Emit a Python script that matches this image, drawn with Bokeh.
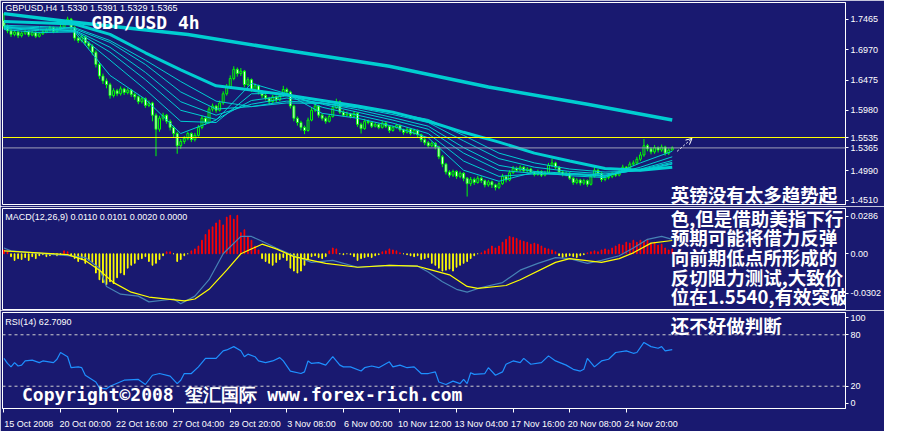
from bokeh.plotting import figure
from bokeh.layouts import column
from bokeh.models import (ColumnDataSource, Range1d, FixedTicker, NumeralTickFormatter,
                          LinearAxis, Span, Label, Arrow, OpenHead)
from bokeh.embed import file_html
from bokeh.resources import INLINE

# ---------------- texts ----------------
SYMBOL_HEADER = "GBPUSD,H4  1.5330 1.5391 1.5329 1.5365"
TITLE = "GBP/USD 4h"
MACD_HEADER = "MACD(12,26,9) 0.0110 0.0101 0.0020 0.0000"
RSI_HEADER = "RSI(14) 62.7090"
COPYRIGHT = "Copyright©2008 玺汇国际 www.forex-rich.com"
NOTE_LINES = ["英镑没有太多趋势起", "色,但是借助美指下行", "预期可能将借力反弹",
              "向前期低点所形成的", "反切阻力测试,大致价", "位在1.5540,有效突破",
              "还不好做判断"]
DATE_LABELS = ["15 Oct 2008", "20 Oct 00:00", "22 Oct 16:00", "27 Oct 04:00",
               "29 Oct 20:00", "3 Nov 08:00", "6 Nov 00:00", "10 Nov 12:00",
               "13 Nov 04:00", "17 Nov 16:00", "20 Nov 08:00", "24 Nov 20:00"]
DATE_BARS = [0, 16, 32, 48, 64, 80, 96, 112, 128, 144, 160, 176]
PRICE_TICKS = [1.4510, 1.4990, 1.5980, 1.6475, 1.6970, 1.7465]
MACD_TICKS = [-0.0302, 0.0, 0.0286]
RSI_TICKS = [0, 20, 80, 100]
RSI_LEVELS = [20, 80]
ASK_LEVEL = 1.5535
BID_LEVEL = 1.5365
# hand-drawn arrow object on the chart (bar, price)
ARROW_BARS = [190.4, 194.6]
ARROW_PRICES = [1.5310, 1.5520]

# ---------------- candles (H4 bars) ----------------
OPEN = [1.745,1.735,1.728,1.722,1.726,1.720,1.724,1.727,1.721,1.725,
        1.719,1.723,1.726,1.729,1.733,1.727,1.731,1.734,1.742,1.747,
        1.733,1.716,1.712,1.718,1.708,1.703,1.693,1.673,1.654,1.646,
        1.640,1.622,1.630,1.625,1.633,1.627,1.631,1.624,1.620,1.612,
        1.617,1.606,1.610,1.590,1.567,1.585,1.590,1.580,1.570,1.560,
        1.540,1.547,1.552,1.560,1.550,1.557,1.570,1.585,1.578,1.600,
        1.605,1.598,1.610,1.625,1.636,1.650,1.665,1.658,1.662,1.640,
        1.648,1.632,1.638,1.628,1.622,1.618,1.612,1.620,1.615,1.622,
        1.632,1.628,1.605,1.585,1.578,1.570,1.565,1.582,1.598,1.605,
        1.590,1.585,1.580,1.588,1.602,1.612,1.595,1.590,1.592,1.588,
        1.593,1.575,1.568,1.580,1.578,1.572,1.575,1.570,1.577,1.572,
        1.565,1.570,1.573,1.566,1.562,1.567,1.560,1.565,1.558,1.550,
        1.545,1.540,1.544,1.538,1.522,1.510,1.497,1.492,1.498,1.490,
        1.495,1.487,1.478,1.485,1.480,1.487,1.483,1.476,1.481,1.476,
        1.472,1.478,1.490,1.484,1.496,1.503,1.500,1.505,1.499,1.502,
        1.497,1.493,1.498,1.492,1.496,1.508,1.512,1.505,1.497,1.493,
        1.495,1.487,1.480,1.484,1.479,1.483,1.477,1.490,1.500,1.495,
        1.485,1.488,1.490,1.494,1.492,1.498,1.505,1.502,1.510,1.512,
        1.518,1.525,1.540,1.535,1.530,1.537,1.533,1.538,1.528,1.5330]
HIGH = [1.757,1.738,1.731,1.729,1.728,1.727,1.730,1.729,1.728,1.727,
        1.726,1.729,1.732,1.736,1.735,1.734,1.738,1.746,1.751,1.749,
        1.736,1.720,1.722,1.720,1.711,1.706,1.696,1.676,1.658,1.650,
        1.643,1.634,1.633,1.637,1.635,1.634,1.633,1.627,1.622,1.620,
        1.619,1.614,1.612,1.593,1.589,1.594,1.592,1.583,1.573,1.563,
        1.551,1.556,1.563,1.562,1.561,1.574,1.589,1.588,1.604,1.609,
        1.607,1.614,1.629,1.641,1.655,1.670,1.668,1.667,1.664,1.652,
        1.650,1.642,1.640,1.631,1.625,1.620,1.623,1.622,1.626,1.638,
        1.635,1.630,1.607,1.588,1.581,1.573,1.586,1.602,1.609,1.607,
        1.593,1.588,1.592,1.606,1.617,1.614,1.598,1.596,1.594,1.597,
        1.595,1.578,1.584,1.583,1.580,1.578,1.577,1.580,1.579,1.574,
        1.573,1.576,1.575,1.568,1.570,1.569,1.568,1.567,1.560,1.553,
        1.548,1.547,1.546,1.540,1.525,1.512,1.500,1.501,1.500,1.498,
        1.497,1.489,1.489,1.488,1.491,1.490,1.485,1.484,1.483,1.478,
        1.481,1.494,1.492,1.500,1.507,1.506,1.508,1.507,1.505,1.504,
        1.499,1.501,1.500,1.499,1.512,1.519,1.514,1.507,1.499,1.498,
        1.497,1.489,1.487,1.486,1.486,1.485,1.494,1.505,1.502,1.497,
        1.491,1.493,1.497,1.496,1.501,1.509,1.507,1.514,1.516,1.522,
        1.530,1.551,1.543,1.538,1.541,1.539,1.542,1.540,1.536,1.5391]
LOW = [1.731,1.724,1.718,1.719,1.716,1.717,1.721,1.718,1.719,1.716,
       1.717,1.721,1.724,1.727,1.724,1.725,1.729,1.732,1.739,1.729,
       1.712,1.708,1.709,1.704,1.698,1.688,1.668,1.649,1.641,1.634,
       1.617,1.619,1.621,1.622,1.623,1.624,1.620,1.615,1.608,1.609,
       1.602,1.603,1.580,1.523,1.563,1.581,1.576,1.565,1.554,1.527,
       1.535,1.543,1.549,1.546,1.547,1.555,1.567,1.574,1.576,1.596,
       1.594,1.596,1.607,1.622,1.633,1.647,1.653,1.654,1.636,1.637,
       1.628,1.629,1.624,1.618,1.614,1.607,1.610,1.611,1.613,1.620,
       1.624,1.601,1.580,1.573,1.565,1.559,1.563,1.580,1.595,1.586,
       1.581,1.576,1.578,1.586,1.600,1.592,1.587,1.588,1.585,1.586,
       1.571,1.560,1.566,1.575,1.569,1.570,1.567,1.568,1.569,1.561,
       1.563,1.568,1.563,1.558,1.560,1.557,1.558,1.554,1.546,1.541,
       1.537,1.538,1.534,1.518,1.505,1.493,1.488,1.489,1.486,1.487,
       1.482,1.457,1.474,1.476,1.478,1.479,1.472,1.473,1.471,1.467,
       1.469,1.476,1.480,1.482,1.494,1.497,1.498,1.496,1.497,1.494,
       1.490,1.491,1.489,1.490,1.494,1.505,1.502,1.494,1.490,1.490,
       1.484,1.476,1.477,1.475,1.476,1.473,1.475,1.488,1.491,1.481,
       1.482,1.485,1.487,1.489,1.490,1.496,1.499,1.500,1.507,1.509,
       1.515,1.522,1.531,1.526,1.527,1.529,1.530,1.524,1.525,1.5329]
CLOSE = [1.735,1.728,1.722,1.726,1.720,1.724,1.727,1.721,1.725,1.719,
         1.723,1.726,1.729,1.733,1.727,1.731,1.734,1.742,1.747,1.733,
         1.716,1.712,1.718,1.708,1.703,1.693,1.673,1.654,1.646,1.640,
         1.622,1.630,1.625,1.633,1.627,1.631,1.624,1.620,1.612,1.617,
         1.606,1.610,1.590,1.567,1.585,1.590,1.580,1.570,1.560,1.540,
         1.547,1.552,1.560,1.550,1.557,1.570,1.585,1.578,1.600,1.605,
         1.598,1.610,1.625,1.636,1.650,1.665,1.658,1.662,1.640,1.648,
         1.632,1.638,1.628,1.622,1.618,1.612,1.620,1.615,1.622,1.632,
         1.628,1.605,1.585,1.578,1.570,1.565,1.582,1.598,1.605,1.590,
         1.585,1.580,1.588,1.602,1.612,1.595,1.590,1.592,1.588,1.593,
         1.575,1.568,1.580,1.578,1.572,1.575,1.570,1.577,1.572,1.565,
         1.570,1.573,1.566,1.562,1.567,1.560,1.565,1.558,1.550,1.545,
         1.540,1.544,1.538,1.522,1.510,1.497,1.492,1.498,1.490,1.495,
         1.487,1.478,1.485,1.480,1.487,1.483,1.476,1.481,1.476,1.472,
         1.478,1.490,1.484,1.496,1.503,1.500,1.505,1.499,1.502,1.497,
         1.493,1.498,1.492,1.496,1.508,1.512,1.505,1.497,1.493,1.495,
         1.487,1.480,1.484,1.479,1.483,1.477,1.490,1.500,1.495,1.485,
         1.488,1.490,1.494,1.492,1.498,1.505,1.502,1.510,1.512,1.518,
         1.525,1.540,1.535,1.530,1.537,1.533,1.538,1.528,1.533,1.5365]

# ---------------- moving averages (read at sample bars) ----------------
MA_BARS = [0, 10, 20, 30, 40, 50, 60, 70, 80, 90, 100, 110, 120, 130, 140, 150, 160, 170, 180, 189]
MA_1 = [1.730,1.725,1.726,1.655,1.616,1.560,1.582,1.642,1.625,1.593,1.585,1.572,1.553,1.500,1.482,1.497,1.491,1.488,1.512,1.531]
MA_2 = [1.732,1.728,1.727,1.680,1.632,1.580,1.578,1.625,1.626,1.603,1.590,1.577,1.560,1.515,1.490,1.494,1.493,1.490,1.505,1.522]
MA_3 = [1.733,1.730,1.728,1.693,1.648,1.598,1.583,1.614,1.622,1.608,1.595,1.582,1.567,1.528,1.500,1.495,1.494,1.491,1.502,1.516]
MA_4 = [1.734,1.731,1.729,1.701,1.660,1.612,1.590,1.608,1.618,1.610,1.599,1.586,1.572,1.537,1.508,1.498,1.495,1.492,1.501,1.513]
MA_5 = [1.735,1.733,1.731,1.709,1.673,1.628,1.600,1.604,1.613,1.610,1.602,1.591,1.578,1.548,1.519,1.505,1.498,1.494,1.500,1.511]
MA_6 = [1.737,1.735,1.733,1.712,1.680,1.645,1.613,1.604,1.610,1.609,1.603,1.594,1.583,1.557,1.528,1.512,1.502,1.497,1.499,1.510]
MA_SLOW_BARS = [0, 20, 30, 40, 50, 60, 70, 80, 90, 100, 110, 120, 130, 140, 150, 160, 170, 180, 189]
MA_SLOW = [1.743,1.739,1.722,1.692,1.664,1.638,1.631,1.623,1.614,1.605,1.595,1.580,1.562,1.546,1.528,1.515,1.503,1.500,1.505]
MA_LONG_BARS = [0, 18, 52, 82, 109, 137, 165, 189]
MA_LONG = [1.756,1.743,1.722,1.694,1.670,1.636,1.608,1.582]

# ---------------- MACD ----------------
HIST = [0.0029,0.0015,-0.0022,-0.0051,-0.0037,-0.0044,-0.0029,-0.0051,-0.0022,-0.0037,
        -0.0015,-0.0007,-0.0022,-0.0015,-0.0007,-0.0015,-0.0007,0.0022,0.0015,-0.0015,
        -0.0037,-0.0059,-0.0044,-0.0073,-0.0051,-0.0066,-0.0147,-0.0198,-0.0220,-0.0235,
        -0.0213,-0.0227,-0.0183,-0.0147,-0.0161,-0.0110,-0.0088,-0.0073,-0.0044,-0.0037,
        -0.0022,-0.0059,-0.0088,-0.0073,-0.0044,-0.0015,0.0015,0.0015,0.0,-0.0059,
        -0.0044,-0.0015,0.0,0.0022,0.0037,0.0059,0.0103,0.0147,0.0183,0.0205,
        0.0235,0.0257,0.0220,0.0279,0.0293,0.0264,0.0293,0.0161,0.0183,0.0132,
        0.0103,0.0059,0.0029,-0.0037,-0.0059,-0.0073,-0.0088,-0.0066,-0.0044,-0.0029,
        -0.0051,-0.0110,-0.0132,-0.0147,-0.0132,-0.0088,-0.0044,-0.0022,-0.0015,-0.0029,
        -0.0037,-0.0022,0.0022,0.0044,0.0037,0.0,-0.0007,0.0,-0.0007,-0.0022,
        -0.0051,-0.0037,-0.0029,-0.0022,-0.0029,-0.0015,-0.0007,0.0015,0.0022,0.0037,
        0.0029,0.0022,0.0007,0.0,-0.0007,-0.0015,-0.0022,-0.0015,-0.0044,-0.0037,
        -0.0029,-0.0073,-0.0088,-0.0110,-0.0132,-0.0125,-0.0117,-0.0132,-0.0103,-0.0088,
        -0.0073,-0.0059,-0.0037,-0.0015,0.0,0.0007,0.0022,0.0037,0.0059,0.0044,
        0.0059,0.0088,0.0110,0.0132,0.0125,0.0117,0.0103,0.0095,0.0088,0.0073,
        0.0081,0.0073,0.0059,0.0044,0.0037,0.0029,0.0015,-0.0015,-0.0029,-0.0022,
        -0.0015,-0.0022,-0.0029,-0.0015,-0.0007,0.0007,0.0015,0.0022,0.0015,0.0029,
        0.0037,0.0029,0.0044,0.0059,0.0073,0.0066,0.0088,0.0081,0.0103,0.0088,
        0.0103,0.0095,0.0110,0.0081,0.0088,0.0066,0.0073,0.0044,0.0029,0.0037]
MACD_BARS = [0,2,18,23,27,29,33,38,41,48,50,54,58,62,67,70,73,77,82,87,
             93,100,109,117,120,124,128,131,135,141,146,151,156,160,165,169,174,178,182,186,189]
MACD_MAIN = [0.0044,0.0022,-0.0015,-0.0029,-0.0110,-0.0249,-0.0308,-0.0323,-0.0367,-0.0345,
             -0.0381,-0.0323,-0.0198,0.0,0.0132,0.0132,0.0095,0.0044,-0.0015,-0.0066,
             -0.0051,-0.0103,-0.0088,-0.0095,-0.0139,-0.0213,-0.0271,-0.0293,-0.0257,-0.0220,
             -0.0125,-0.0073,-0.0029,-0.0037,-0.0073,-0.0051,-0.0015,0.0044,0.0110,0.0132,0.0110]
SIGNAL_BARS = [0,18,23,27,31,36,41,51,54,58,63,67,73,77,82,91,100,109,117,120,
               126,131,134,142,146,156,160,169,174,178,183,189]
MACD_SIGNAL = [0.0022,-0.0007,-0.0051,-0.0125,-0.0220,-0.0293,-0.0330,-0.0359,-0.0345,-0.0271,
               -0.0125,0.0,0.0073,0.0037,-0.0022,-0.0073,-0.0103,-0.0088,-0.0095,-0.0117,
               -0.0161,-0.0249,-0.0264,-0.0242,-0.0198,-0.0066,-0.0037,-0.0066,-0.0037,0.0007,
               0.0081,0.0101]

# ---------------- RSI ----------------
RSI_BARS = [0,1,2,3,4,5,6,8,10,11,14,15,16,18,19,21,22,23,26,27,
            29,30,34,38,40,42,44,47,49,50,51,53,55,57,60,62,63,65,67,68,
            69,71,72,74,76,78,79,81,84,85,86,87,89,91,93,95,96,98,101,102,
            104,106,109,110,112,114,116,118,120,122,123,125,127,129,130,131,132,133,136,137,
            139,141,142,144,146,147,149,152,154,156,159,161,163,164,165,167,169,171,173,176,
            178,179,181,183,185,186,187,189]
RSI_VALUES = [52.5,46.6,42.6,47.5,43.6,44.6,49.5,50.5,47.5,49.5,
              47.5,51.5,59.3,54.4,41.6,42.6,41.6,32.8,24.9,18.0,
              17.0,20.0,27.0,27.9,22.0,32.8,34.8,31.8,23.0,26.9,
              34.8,34.8,42.6,52.5,52.5,61.3,62.3,66.2,61.3,54.4,
              57.4,54.4,49.5,47.5,49.5,53.4,49.5,37.7,34.8,36.7,
              49.5,46.6,47.5,44.6,54.4,44.6,42.6,42.6,37.7,41.6,
              43.6,41.6,48.5,42.6,44.6,41.6,42.6,34.8,34.8,36.7,
              24.9,22.0,25.9,23.0,27.9,23.0,35.7,33.8,34.8,41.6,
              32.8,36.7,45.6,49.5,47.5,52.5,45.6,47.5,55.4,49.5,
              44.6,39.7,37.7,39.7,52.5,42.6,49.5,51.5,59.3,61.3,
              58.4,59.3,71.1,66.2,64.3,66.2,61.3,62.7]

# ---------------- styling ----------------
BG = "#191970"
LIME = "#00FF00"
CYAN = "#00CED1"
AXIS_FONT = "Liberation Sans"
W = 884
xr = Range1d(-0.41, 238.0)


def panel(height, y_range, top, bottom, with_x):
    p = figure(width=W, height=height, x_range=xr, y_range=y_range,
               output_backend="svg", toolbar_location=None,
               x_axis_location="below" if with_x else None, y_axis_location="right",
               min_border_left=2, min_border_right=30, min_border_top=top,
               min_border_bottom=bottom, background_fill_color=BG,
               border_fill_color=BG, outline_line_color="white", outline_line_width=1)
    p.grid.visible = False
    ya = p.yaxis[0]
    ya.axis_line_color = "white"
    ya.major_tick_line_color = "white"
    ya.major_tick_out = 3
    ya.major_tick_in = 0
    ya.minor_tick_line_color = None
    ya.major_label_text_color = "white"
    ya.major_label_text_font = AXIS_FONT
    ya.major_label_text_font_size = "9px"
    ya.major_label_standoff = 2
    return p


def header(p, x, y, text, size="9px", font=AXIS_FONT, bold=False, baseline="top"):
    p.add_layout(Label(x=x, y=y, text=text, text_color="white", text_font=font,
                       text_font_size=size, text_baseline=baseline,
                       text_font_style="bold" if bold else "normal"))


def note(p, y, text):
    p.add_layout(Label(x=188.6, y=y, text=text, text_color="white",
                       text_font="Noto Sans CJK SC", text_font_size="18.5px",
                       text_font_style="bold", text_baseline="middle"))


# ---------------- price panel ----------------
p1 = panel(206, Range1d(1.4440, 1.7742), 2, 2, False)
p1.yaxis[0].ticker = FixedTicker(ticks=sorted(PRICE_TICKS + [ASK_LEVEL, BID_LEVEL]))
p1.yaxis[0].formatter = NumeralTickFormatter(format="0.0000")

bars = list(range(len(CLOSE)))
csrc = ColumnDataSource(dict(
    x=bars, high=HIGH, low=LOW,
    top=[max(o, c) for o, c in zip(OPEN, CLOSE)],
    bot=[min(o, c) for o, c in zip(OPEN, CLOSE)],
    fill=["white" if c < o else BG for o, c in zip(OPEN, CLOSE)]))
p1.segment(x0="x", y0="low", x1="x", y1="high", source=csrc, line_color=LIME, line_width=1)
p1.vbar(x="x", width=0.55, top="top", bottom="bot", source=csrc,
        fill_color="fill", line_color=LIME, line_width=1)

for series in (MA_1, MA_2, MA_3, MA_4, MA_5, MA_6):
    p1.line(MA_BARS, series, line_color=CYAN, line_width=1)
p1.line(MA_SLOW_BARS, MA_SLOW, line_color=CYAN, line_width=3)
p1.line(MA_LONG_BARS, MA_LONG, line_color=CYAN, line_width=3.5)

p1.add_layout(Span(location=ASK_LEVEL, dimension="width", line_color="#FFFF00", line_width=1))
p1.add_layout(Span(location=BID_LEVEL, dimension="width", line_color="#A0A0B8", line_width=1))
p1.add_layout(Arrow(x_start=ARROW_BARS[0], y_start=ARROW_PRICES[0],
                    x_end=ARROW_BARS[1], y_end=ARROW_PRICES[1],
                    line_color="white", line_width=1, line_dash="2 2",
                    end=OpenHead(size=6, line_color="white", line_width=1)))

header(p1, 0.4, 1.7727, SYMBOL_HEADER)
header(p1, 24.7, 1.7419, TITLE, size="18px", font="DejaVu Sans Mono", bold=True, baseline="middle")
note(p1, 1.4604, NOTE_LINES[0])

# ---------------- MACD panel ----------------
p2 = panel(104, Range1d(-0.0425, 0.0345), 2, 1, False)
p2.yaxis[0].ticker = FixedTicker(ticks=MACD_TICKS)
p2.yaxis[0].formatter = NumeralTickFormatter(format="0.0000")
p2.yaxis[0].major_label_overrides = {0: "0.00"}

hsrc = ColumnDataSource(dict(
    x=list(range(len(HIST))), top=HIST,
    color=["#FF0000" if v > 0 else "#FFFF00" for v in HIST]))
p2.vbar(x="x", width=0.2, top="top", bottom=0, source=hsrc,
        fill_color="color", line_color="color", line_width=1)
p2.line(MACD_BARS, MACD_MAIN, line_color="#4682B4", line_width=1.2)
p2.line(SIGNAL_BARS, MACD_SIGNAL, line_color="#FFFF00", line_width=1.2)

header(p2, 0.4, 0.0315, MACD_HEADER)
for y, text in zip([0.0272, 0.0124, -0.0025, -0.0174, -0.0322], NOTE_LINES[1:6]):
    note(p2, y, text)

# ---------------- RSI panel ----------------
p3 = panel(121, Range1d(-6, 106), 2, 20, True)
p3.yaxis[0].ticker = FixedTicker(ticks=RSI_TICKS)
p3.yaxis[0].formatter = NumeralTickFormatter(format="0")
for lvl in RSI_LEVELS:
    p3.add_layout(Span(location=lvl, dimension="width", line_color="#D0D0D0",
                       line_width=1, line_dash="3 3"))
p3.line(RSI_BARS, RSI_VALUES, line_color="#1E90FF", line_width=1.2)

header(p3, 0.4, 101.0, RSI_HEADER)
note(p3, 92.0, NOTE_LINES[6])
header(p3, 5.1, 10.0, COPYRIGHT, size="18px", font="DejaVu Sans Mono", bold=True, baseline="middle")

# date axis: tick marks at the bars, labels starting at the ticks
tick_ax = p3.xaxis[0]
tick_ax.ticker = FixedTicker(ticks=DATE_BARS)
tick_ax.major_label_overrides = {b: "" for b in DATE_BARS}
tick_ax.major_label_text_font_size = "1px"
tick_ax.major_label_standoff = 0
tick_ax.axis_line_color = "white"
tick_ax.major_tick_line_color = "white"
tick_ax.major_tick_out = 4
tick_ax.major_tick_in = 0
tick_ax.minor_tick_line_color = None

LABEL_SHIFT = 7
lab_ax = LinearAxis(ticker=FixedTicker(ticks=[b + LABEL_SHIFT for b in DATE_BARS]),
                    major_label_overrides={b + LABEL_SHIFT: t for b, t in zip(DATE_BARS, DATE_LABELS)},
                    axis_line_color=None, major_tick_line_color=None,
                    minor_tick_line_color=None, major_label_standoff=0,
                    major_label_text_color="white", major_label_text_font=AXIS_FONT,
                    major_label_text_font_size="9px")
p3.add_layout(lab_ax, "below")

layout = column(p1, p2, p3)
with open("out.html", "w", encoding="utf-8") as f:
    f.write(file_html(layout, INLINE, title="GBP/USD 4h"))
